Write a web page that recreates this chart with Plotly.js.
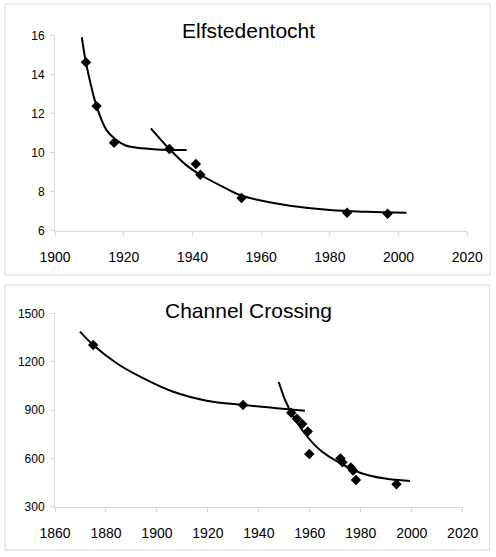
<!DOCTYPE html>
<html>
<head>
<meta charset="utf-8">
<script src="https://cdn.plot.ly/plotly-3.0.1.min.js"></script>
<style>html,body{margin:0;padding:0;background:#fff;}#chart{width:496px;height:557px;}</style>
</head>
<body>
<div id="chart"></div>
<script>
// Elfstedentocht (winning time, hours)
const elfYears = [1909.0, 1912.1, 1917.2, 1933.3, 1941.0, 1942.3, 1954.3, 1985.0, 1996.8];
const elfTimes = [14.64, 12.39, 10.51, 10.19, 9.42, 8.87, 7.68, 6.92, 6.87];
// fitted trend curves
const elfFit1Years = [1907.8, 1909.0, 1912.1, 1915.0, 1917.5, 1920.4, 1924.0, 1929.6, 1938.3];
const elfFit1Times = [15.92, 14.64, 12.39, 11.16, 10.70, 10.38, 10.25, 10.17, 10.14];
const elfFit2Years = [1927.9, 1933.3, 1938.3, 1942.3, 1948.0, 1953.8, 1960.6, 1968.4, 1980.0, 1990.7, 2002.3];
const elfFit2Times = [11.25, 10.19, 9.35, 8.87, 8.33, 7.83, 7.52, 7.28, 7.06, 6.97, 6.92];

// Channel Crossing (time, minutes)
const chYears = [1875.0, 1933.8, 1952.7, 1954.9, 1957.0, 1959.2, 1959.8, 1972.0, 1972.8, 1976.1, 1977.0, 1978.1, 1994.0];
const chTimes = [1303, 931, 883, 846, 813, 767, 627, 600, 576, 544, 525, 466, 439];
const chFit1Years = [1869.8, 1875.0, 1884.2, 1893.4, 1906.4, 1919.5, 1933.9, 1947.0, 1958.1];
const chFit1Times = [1386, 1303, 1190, 1107, 1013, 958, 931, 911, 896];
const chFit2Years = [1947.8, 1950.3, 1952.9, 1957.5, 1964.0, 1971.9, 1979.7, 1988.9, 1999.3];
const chFit2Times = [1074, 962, 879, 765, 652, 570, 511, 476, 459];

const topTitle = 'Elfstedentocht';
const bottomTitle = 'Channel Crossing';

const W = 496, H = 557;
const px = v => v / W;
const py = v => 1 - v / H;

const FONT = 'Liberation Sans, Arial, sans-serif';
const lineStyle = {color: '#000', width: 2, shape: 'spline', smoothing: 1};
const markerStyle = {symbol: 'diamond', size: 8, color: '#000'};

const traces = [
  {x: elfFit1Years, y: elfFit1Times, mode: 'lines', line: lineStyle, xaxis: 'x', yaxis: 'y'},
  {x: elfFit2Years, y: elfFit2Times, mode: 'lines', line: lineStyle, xaxis: 'x', yaxis: 'y'},
  {x: elfYears, y: elfTimes, mode: 'markers', marker: markerStyle, xaxis: 'x', yaxis: 'y'},
  {x: chFit1Years, y: chFit1Times, mode: 'lines', line: lineStyle, xaxis: 'x2', yaxis: 'y2'},
  {x: chFit2Years, y: chFit2Times, mode: 'lines', line: lineStyle, xaxis: 'x2', yaxis: 'y2'},
  {x: chYears, y: chTimes, mode: 'markers', marker: markerStyle, xaxis: 'x2', yaxis: 'y2'}
];

const axisCommon = {
  showline: true, linecolor: '#d9d9d9', linewidth: 1,
  ticks: 'outside', ticklen: 4, tickcolor: '#d9d9d9', tickwidth: 1,
  showgrid: false, zeroline: false, fixedrange: true
};

const layout = {
  width: W, height: H,
  margin: {l: 0, r: 0, t: 0, b: 0},
  paper_bgcolor: '#fff', plot_bgcolor: '#fff',
  showlegend: false,
  font: {family: FONT, color: '#000'},
  xaxis: Object.assign({}, axisCommon, {
    domain: [px(55), px(467.3)], range: [1900, 2020], tick0: 1900, dtick: 20,
    anchor: 'y', tickfont: {size: 14, family: FONT, color: '#000'}, ticklabelstandoff: 9
  }),
  yaxis: Object.assign({}, axisCommon, {
    domain: [py(230.7), py(35.7)], range: [6, 16], tick0: 6, dtick: 2,
    anchor: 'x', tickfont: {size: 12, family: FONT, color: '#000'}, ticklabelstandoff: 3
  }),
  xaxis2: Object.assign({}, axisCommon, {
    domain: [px(55), px(462.7)], range: [1860, 2020], tick0: 1860, dtick: 20,
    anchor: 'y2', tickfont: {size: 14, family: FONT, color: '#000'}, ticklabelstandoff: 9
  }),
  yaxis2: Object.assign({}, axisCommon, {
    domain: [py(506.7), py(313.3)], range: [300, 1500], tick0: 300, dtick: 300,
    anchor: 'x2', tickfont: {size: 12, family: FONT, color: '#000'}, ticklabelstandoff: 3
  }),
  annotations: [
    {text: topTitle, xref: 'paper', yref: 'paper', x: px(248), y: py(30.2),
     xanchor: 'center', yanchor: 'middle', showarrow: false,
     font: {size: 21, family: FONT, color: '#000'}},
    {text: bottomTitle, xref: 'paper', yref: 'paper', x: px(248), y: py(310.8),
     xanchor: 'center', yanchor: 'middle', showarrow: false,
     font: {size: 21, family: FONT, color: '#000'}}
  ],
  shapes: [
    {type: 'rect', xref: 'paper', yref: 'paper', x0: px(5), x1: px(490), y0: py(275), y1: py(4),
     line: {color: '#d9d9d9', width: 1}, fillcolor: 'rgba(0,0,0,0)', layer: 'below'},
    {type: 'rect', xref: 'paper', yref: 'paper', x0: px(5), x1: px(489.5), y0: py(550), y1: py(285),
     line: {color: '#d9d9d9', width: 1}, fillcolor: 'rgba(0,0,0,0)', layer: 'below'}
  ]
};

Plotly.newPlot('chart', traces, layout, {displayModeBar: false, staticPlot: true});
</script>
</body>
</html>
